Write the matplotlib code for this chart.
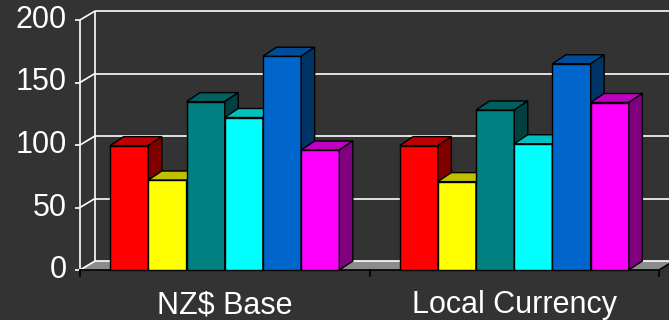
import matplotlib.pyplot as plt
from matplotlib.patches import Polygon

# ---------- data ----------
categories = ['NZ$ Base', 'Local Currency']
nz_base = [99.5, 72, 134.7, 122, 171, 96]
local_currency = [99.5, 70.7, 128, 101, 165, 134]
y_ticks = [0, 50, 100, 150, 200]

front_colors = ['#FF0000', '#FFFF00', '#008080', '#00FFFF', '#0066CC', '#FF00FF']
top_colors = ['#C00000', '#C0C000', '#006060', '#00C0C0', '#004C99', '#C000C0']
side_colors = ['#800000', '#808000', '#004040', '#008080', '#003366', '#800080']

BG = '#333333'
FLOOR = '#8c8c8c'

# ---------- geometry (pixel scale of the 3D box) ----------
PX = 289.5           # px per category unit
PY = 1.25            # px per value unit
wall_dx, wall_dy = 15 / PX, 9 / PY
bar_dx, bar_dy = 13.5 / PX, 9 / PY
bar_w = 38.2 / PX
pad = (1 - 6 * bar_w) / 2

fig = plt.figure(figsize=(6.69, 3.2), dpi=100, facecolor=BG)
ax = fig.add_axes([0, 0, 1, 1], facecolor=BG)
ax.set_xlim(-80 / PX, 589 / PX)
ax.set_ylim(-40, 216)
ax.axis('off')

n_cat = len(categories)
white = dict(color='white', lw=1.2, solid_capstyle='butt')

# floor
floor = Polygon([(0, 0), (n_cat, 0), (n_cat + wall_dx, wall_dy), (wall_dx, wall_dy)],
                closed=True, facecolor=FLOOR, edgecolor='none', zorder=1)
ax.add_patch(floor)

# back wall gridlines, side wall diagonals, wall edges
for v in y_ticks:
    ax.plot([wall_dx, n_cat + wall_dx + 0.2], [v + wall_dy, v + wall_dy], zorder=2, **white)
    ax.plot([0, wall_dx], [v, v + wall_dy], zorder=2, **white)
    ax.plot([-5 / PX, 0], [v, v], zorder=2, **white)
ax.plot([wall_dx, wall_dx], [wall_dy, y_ticks[-1] + wall_dy], zorder=2, **white)
ax.plot([0, 0], [0, y_ticks[-1]], zorder=2, **white)

# floor front edge, right edge and category ticks
ax.plot([0, n_cat], [0, 0], color='black', lw=1.2, zorder=2)
ax.plot([n_cat, n_cat + wall_dx], [0, wall_dy], color='black', lw=1.2, zorder=2)
for i in range(n_cat + 1):
    ax.plot([i, i], [0, -6 / PY], color='black', lw=1.2, zorder=2)


def draw_bar(x0, h, front, top, side, z):
    x1 = x0 + bar_w
    kw = dict(closed=True, edgecolor='black', lw=1.0, joinstyle='miter', zorder=z)
    ax.add_patch(Polygon([(x0, 0), (x1, 0), (x1, h), (x0, h)], facecolor=front, **kw))
    ax.add_patch(Polygon([(x0, h), (x1, h), (x1 + bar_dx, h + bar_dy), (x0 + bar_dx, h + bar_dy)],
                         facecolor=top, **kw))
    ax.add_patch(Polygon([(x1, 0), (x1 + bar_dx, bar_dy), (x1 + bar_dx, h + bar_dy), (x1, h)],
                         facecolor=side, **kw))


z = 3
for gi, values in enumerate([nz_base, local_currency]):
    for si, h in enumerate(values):
        x0 = gi + pad + si * bar_w
        draw_bar(x0, h, front_colors[si], top_colors[si], side_colors[si], z)
        z += 1

# labels
font = dict(family='Liberation Sans', fontsize=22, color='white')
for v in y_ticks:
    ax.text(-13 / PX, v, str(v), ha='right', va='center', **font)
for i, name in enumerate(categories):
    ax.text(i + 0.5, -34.4, name, ha='center', va='baseline', **font)

fig.savefig('out.png', dpi=100, facecolor=BG)
